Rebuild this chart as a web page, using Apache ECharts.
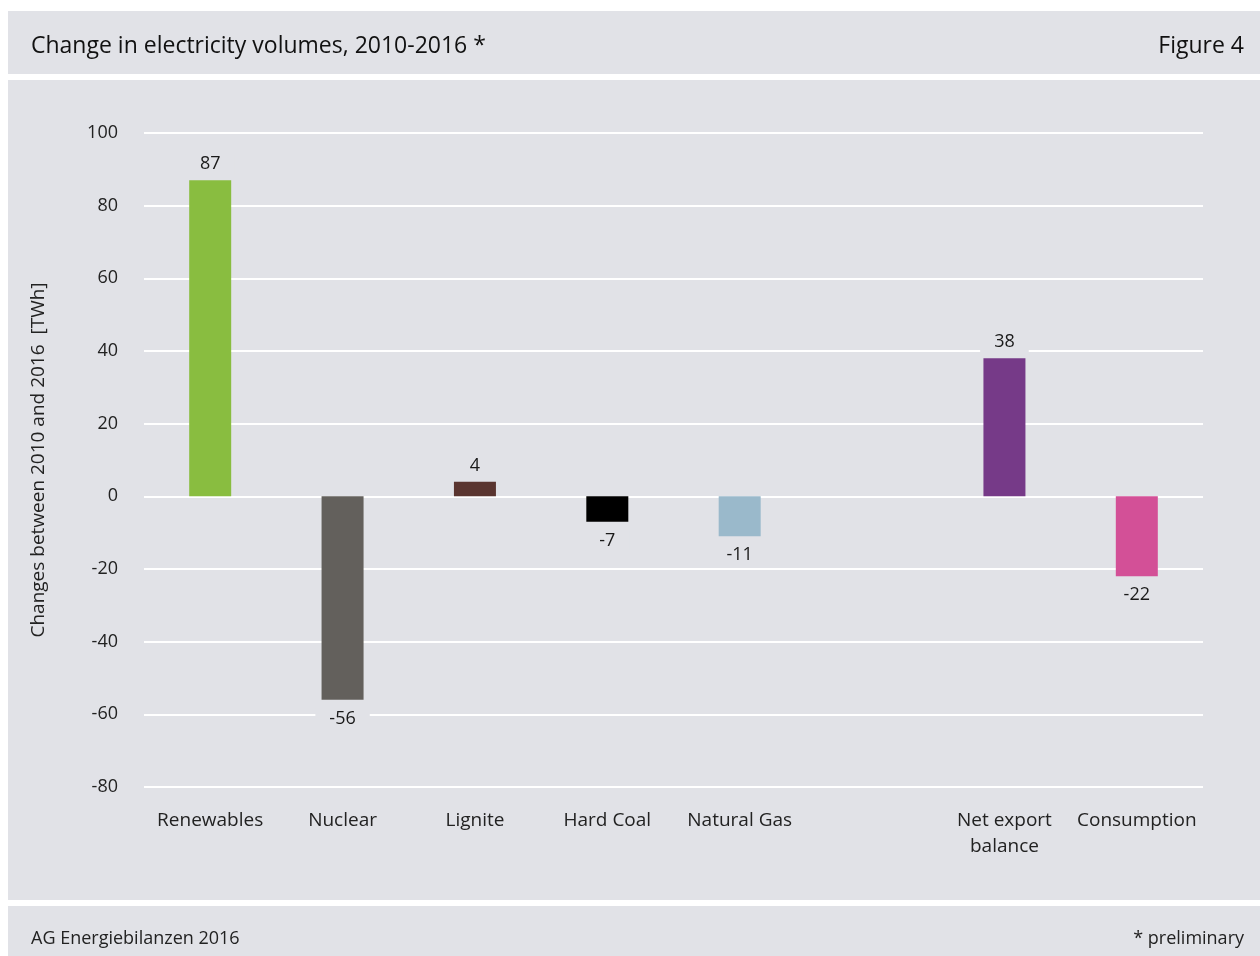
<!DOCTYPE html>
<html><head><meta charset="utf-8">
<script src="https://cdn.jsdelivr.net/npm/echarts@6/dist/echarts.min.js"></script>
<style>html,body{margin:0;padding:0;background:#fff}#c{width:1260px;height:956px}</style>
</head><body><div id="c"></div>
<script>
const categories = ['Renewables','Nuclear','Lignite','Hard Coal','Natural Gas','','Net export\nbalance','Consumption'];
const values = [87, -56, 4, -7, -11, null, 38, -22];
const barColors = ['#89bd40','#63605c','#5a3530','#000000','#9ab9cb','#ffffff','#763a88','#d35097'];
const yTicks = {min: -80, max: 100, interval: 20};

const BG = '#e1e2e7';
const FONT = '"Open Sans", "Noto Sans", sans-serif';
const chart = echarts.init(document.getElementById('c'), null, {renderer: 'canvas'});
chart.setOption({
  backgroundColor: '#ffffff',
  animation: false,
  graphic: [
    {type: 'rect', z: -10, shape: {x: 8, y: 11, width: 1252, height: 63}, style: {fill: BG}},
    {type: 'rect', z: -10, shape: {x: 8, y: 80, width: 1252, height: 820}, style: {fill: BG}},
    {type: 'rect', z: -10, shape: {x: 8, y: 906, width: 1252, height: 50}, style: {fill: BG}},
    {type: 'text', left: 31, top: 35, style: {text: 'Change in electricity volumes, 2010-2016 *', fill: '#111', font: '23px ' + FONT}},
    {type: 'text', right: 16, top: 35, style: {text: 'Figure 4', fill: '#111', font: '23px ' + FONT}},
    {type: 'text', left: 31, top: 930, style: {text: 'AG Energiebilanzen 2016', fill: '#222', font: '18px ' + FONT}},
    {type: 'text', right: 16, top: 930, style: {text: '* preliminary', fill: '#222', font: '18px ' + FONT}}
  ],
  grid: {left: 144, right: 57, top: 133, bottom: 169, containLabel: false},
  xAxis: {
    type: 'category', data: categories,
    axisLine: {show: false}, axisTick: {show: false},
    axisLabel: {color: '#222', fontSize: 19, fontFamily: FONT, margin: 21, lineHeight: 26, interval: 0},
    splitLine: {show: false}
  },
  yAxis: {
    type: 'value', min: yTicks.min, max: yTicks.max, interval: yTicks.interval,
    name: 'Changes between 2010 and 2016  [TWh]', nameLocation: 'middle', nameGap: 96,
    nameTextStyle: {color: '#222', fontSize: 19, fontFamily: FONT},
    axisLine: {show: false}, axisTick: {show: false},
    axisLabel: {color: '#222', fontSize: 18, fontFamily: FONT, margin: 26},
    splitLine: {lineStyle: {color: '#ffffff', width: 2}}
  },
  series: [{
    type: 'bar', barWidth: 42,
    data: values.map((v, i) => ({
      value: v,
      itemStyle: {color: barColors[i]},
      label: {position: v >= 0 ? 'top' : 'bottom', distance: v >= 0 ? 6 : 9}
    })),
    label: {
      show: true, color: '#1a1a1a', fontSize: 18, fontFamily: FONT,
      backgroundColor: BG, padding: [1, 14],
      formatter: p => p.value == null ? '' : String(p.value)
    }
  }]
});
</script></body></html>
